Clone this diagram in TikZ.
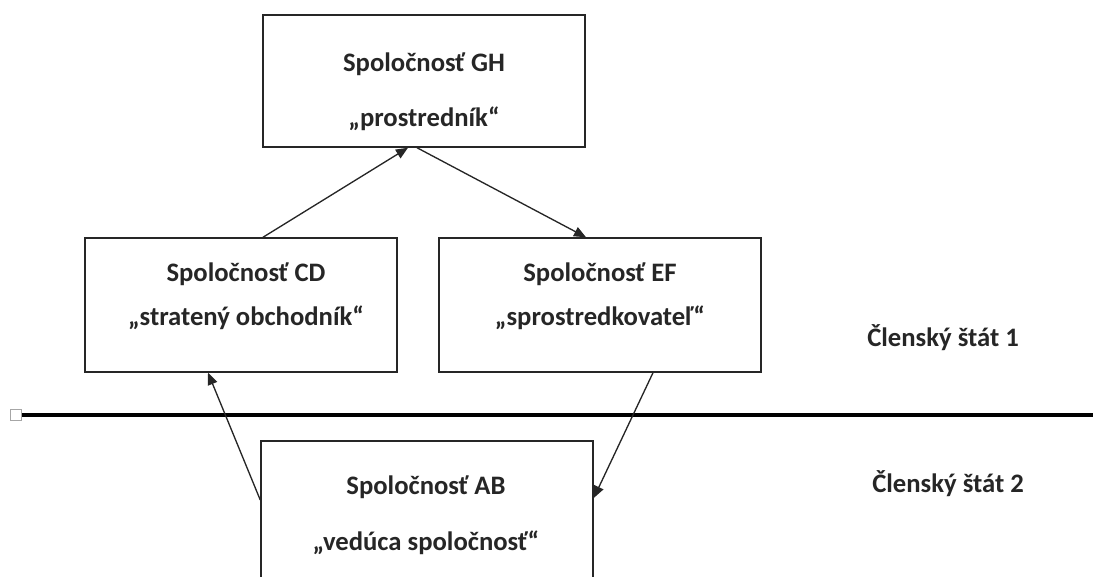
\documentclass[tikz,border=0pt]{standalone}
\usepackage{fontspec}
\setmainfont{Carlito}
\usetikzlibrary{arrows.meta}
\begin{document}
\begin{tikzpicture}[x=0.75pt,y=-0.75pt,
  box/.style={draw=black!85,line width=1.1pt,rectangle,inner sep=0pt},
  lbl/.style={anchor=base,inner sep=0pt,text=black!85,font=\fontsize{20}{24}\selectfont\bfseries},
  side/.style={anchor=base west,inner sep=0pt,text=black!85,font=\fontsize{20}{24}\selectfont\bfseries},
  link/.style={draw=black!85,line width=1pt,-{Triangle[length=9pt,width=7.5pt]}}]
\useasboundingbox (0,0) rectangle (1093,577);
\clip (0,0) rectangle (1093,577);

% boxes
\node[box,minimum width=241.5pt,minimum height=99pt] (gh) at (424,81) {};
\node[box,minimum width=234pt,minimum height=100.5pt] (cd) at (241,305) {};
\node[box,minimum width=241.5pt,minimum height=100.5pt] (ef) at (600,305) {};
\node[box,minimum width=249pt,minimum height=150pt] (ab) at (427,541) {};

% box texts
\node[lbl] (gh1) at (424,72) {Spoločnosť GH};
\node[lbl] (gh2) at (424,127) {„prostredník“};
\node[lbl] (cd1) at (246,282) {Spoločnosť CD};
\node[lbl] (cd2) at (246,326) {„stratený obchodník“};
\node[lbl] (ef1) at (600,282) {Spoločnosť EF};
\node[lbl] (ef2) at (600,326) {„sprostredkovateľ“};
\node[lbl] (ab1) at (426,494) {Spoločnosť AB};
\node[lbl] (ab2) at (426,550) {„vedúca spoločnosť“};

% member state labels
\node[side] (ms1) at (867,347) {Členský štát 1};
\node[side] (ms2) at (872,492) {Členský štát 2};

% border between the two member states
\node[draw=black!35,fill=white,line width=1.1pt,minimum size=8pt,inner sep=0pt] (mark) at (16,415) {};
\coordinate (lineend) at (1100,415);
\draw[line width=2.6pt,black] (mark.east) -- (lineend);

% flows
\draw[link] ([xshift=16.5pt]cd.north) -- ([xshift=-12pt]gh.south);
\draw[link] ([xshift=-5.25pt]gh.south) -- ([xshift=-10.5pt]ef.north);
\draw[link] ([xshift=39.75pt]ef.south) -- ([yshift=32.25pt]ab.east);
\draw[link] ([yshift=30.75pt]ab.west) -- ([xshift=-24.75pt]cd.south);
\end{tikzpicture}
\end{document}
